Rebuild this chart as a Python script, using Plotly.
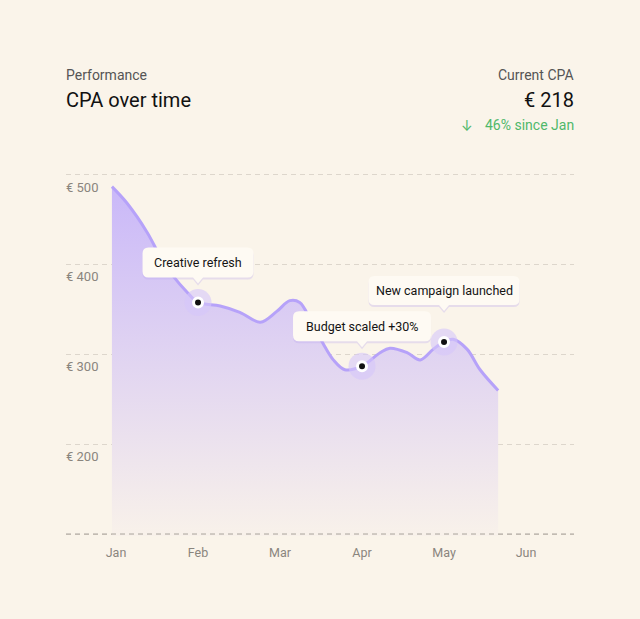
import plotly.graph_objects as go

# monthly axis: 0 = Jan ... 5 = Jun (fractional positions inside the month)
month_labels = ["Jan", "Feb", "Mar", "Apr", "May", "Jun"]
month_ticks = [0, 1, 2, 3, 4, 5]

cpa_pos = [-0.05, 0.13, 0.38, 0.54, 0.70, 0.87, 1.00, 1.27, 1.51, 1.76, 1.96,
           2.12, 2.24, 2.37, 2.52, 2.65, 2.79, 3.00, 3.22, 3.34, 3.55, 3.71,
           3.87, 4.00, 4.11, 4.28, 4.44, 4.66]
cpa_val = [487, 469, 436, 409, 387, 369, 358, 354, 347, 336, 348,
           360, 358, 339, 313, 294, 283, 287, 302, 307, 302, 294,
           306, 314, 317, 306, 283, 260]

event_pos = [1, 3, 4]
event_val = [358, 287, 314]
event_text = ["Creative refresh", "Budget scaled +30%", "New campaign launched"]

y_ticks = [100, 200, 300, 400, 500]
y_tick_text = ["", "€ 200", "€ 300", "€ 400", "€ 500"]

BG = "#faf4ea"
LINE = "#b6a2f9"
FONT = "Roboto"

# bubble sizes in px (width, height, lift above the point)
bubble_w = [111, 138, 151]
bubble_h = [30, 30, 29]
bubble_lift = [25, 25, 37]


def bubble_path(w, h, lift, r=6, tip=6):
    l, rt = -w / 2, w / 2
    b, t = lift, lift + h
    return (f"M {l + r},{t} L {rt - r},{t} Q {rt},{t} {rt},{t - r} "
            f"L {rt},{b + r} Q {rt},{b} {rt - r},{b} L 5,{b} L 0,{b - tip} L -5,{b} "
            f"L {l + r},{b} Q {l},{b} {l},{b + r} L {l},{t - r} Q {l},{t} {l + r},{t} Z")


fig = go.Figure()

fig.add_trace(go.Scatter(
    x=cpa_pos, y=cpa_val,
    mode="lines",
    line=dict(color=LINE, width=3, shape="spline", smoothing=1),
    fill="tozeroy",
    fillgradient=dict(type="vertical", start=100, stop=500,
                      colorscale=[[0, "#f8f1ea"], [1, "#c8b6f9"]]),
    hoverinfo="skip",
))

# halo, then the dot with its white ring
fig.add_trace(go.Scatter(
    x=event_pos, y=event_val, mode="markers",
    marker=dict(size=27, color="rgba(214,198,250,0.6)"),
    hoverinfo="skip",
))
fig.add_trace(go.Scatter(
    x=event_pos, y=event_val, mode="markers",
    marker=dict(size=9, color="#111111", line=dict(color="#ffffff", width=3)),
    hoverinfo="skip",
))

for i in range(len(event_text)):
    fig.add_shape(type="path", xref="x", yref="y",
                  xsizemode="pixel", ysizemode="pixel",
                  xanchor=event_pos[i], yanchor=event_val[i],
                  path=bubble_path(bubble_w[i], bubble_h[i], bubble_lift[i] - 2),
                  fillcolor="rgba(185,165,240,0.30)", line=dict(width=0), layer="above")
    fig.add_shape(type="path", xref="x", yref="y",
                  xsizemode="pixel", ysizemode="pixel",
                  xanchor=event_pos[i], yanchor=event_val[i],
                  path=bubble_path(bubble_w[i], bubble_h[i], bubble_lift[i]),
                  fillcolor="#fefaf3", line=dict(width=0), layer="above")
    fig.add_annotation(x=event_pos[i], y=event_val[i], text=event_text[i],
                       showarrow=False, xanchor="center", yanchor="middle",
                       yshift=bubble_lift[i] + bubble_h[i] / 2,
                       font=dict(family=FONT, size=12.5, color="#141414"))

# baseline
fig.add_shape(type="line", xref="paper", yref="y", x0=0, x1=1, y0=100, y1=100,
              line=dict(color="#a9a39b", width=1, dash="5px,4px"), layer="above")

# header
head = [
    dict(x=0, y=1.269, text="Performance", xanchor="left", size=14, color="#555555", dx=-2, f=FONT),
    dict(x=0, y=1.200, text="CPA over time", xanchor="left", size=20, color="#111111", dx=-2, f=FONT),
    dict(x=1, y=1.269, text="Current CPA", xanchor="right", size=14, color="#555555", dx=2, f=FONT),
    dict(x=1, y=1.200, text="€ 218", xanchor="right", size=20, color="#111111", dx=2, f=FONT),
    dict(x=1, y=1.131, text="46% since Jan", xanchor="right", size=14, color="#4fb86b", dx=2, f=FONT),
    dict(x=0.790, y=1.131, text="↓", xanchor="center", size=14, color="#4fb86b", dx=0, f="Inter"),
]
for h in head:
    fig.add_annotation(xref="paper", yref="paper", x=h["x"], y=h["y"], text=h["text"],
                       showarrow=False, xanchor=h["xanchor"], yanchor="middle", xshift=h["dx"],
                       font=dict(family=h["f"], size=h["size"], color=h["color"]))

fig.update_xaxes(
    range=[-0.61, 5.585],
    tickvals=month_ticks, ticktext=month_labels,
    showgrid=False, zeroline=False, showline=False,
    ticks="outside", ticklen=5, tickcolor="rgba(0,0,0,0)",
    tickfont=dict(family=FONT, size=12.5, color="#8a857e"),
    fixedrange=True,
)
fig.update_yaxes(
    range=[97.8, 502.2],
    tickvals=y_ticks, ticktext=y_tick_text,
    showgrid=True, gridcolor="#ddd6cc", griddash="5px,4px", gridwidth=1,
    zeroline=False, showline=False,
    ticklabelposition="inside bottom",
    ticklabelshift=3, ticklabelstandoff=-3,
    tickfont=dict(family=FONT, size=13, color="#8a857e"),
    fixedrange=True,
)

fig.update_layout(
    width=640, height=619,
    margin=dict(l=66, r=66, t=173, b=83),
    paper_bgcolor=BG, plot_bgcolor=BG,
    showlegend=False,
    font=dict(family=FONT),
)

fig.write_html("out.html", config={"displayModeBar": False},
               post_script="document.body.style.margin='0';")
